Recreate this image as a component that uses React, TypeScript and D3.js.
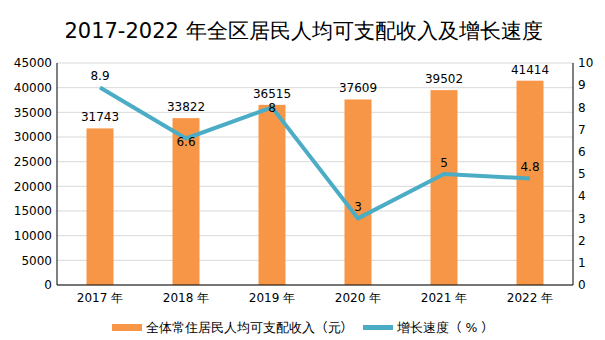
import React from "react";
import * as d3 from "d3";

const years = ["2017 年", "2018 年", "2019 年", "2020 年", "2021 年", "2022 年"];
const income = [31743, 33822, 36515, 37609, 39502, 41414];
const growth = [8.9, 6.6, 8, 3, 5, 4.8];
const leftTicks = [0, 5000, 10000, 15000, 20000, 25000, 30000, 35000, 40000, 45000];
const rightTicks = [0, 1, 2, 3, 4, 5, 6, 7, 8, 9, 10];

const W = 605, H = 340;
const M = { left: 57, right: 32, top: 63, bottom: 55 };
const FONT = "DejaVu Sans, sans-serif";
const CJK = "Noto Sans CJK SC";
const BAR = "#F79646";
const LINE = "#4BACC6";

export default function App() {
  const x = d3.scaleBand().domain(years).range([M.left, W - M.right]);
  const yL = d3.scaleLinear().domain([0, 45000]).range([H - M.bottom, M.top]);
  const yR = d3.scaleLinear().domain([0, 10]).range([H - M.bottom, M.top]);
  const bw = 27;
  const cx = (d: string) => (x(d) as number) + x.bandwidth() / 2;
  const line = d3.line<number>().x((_, i) => cx(years[i])).y((d) => yR(d));
  // label offset: centered on point where it would collide with bar labels
  const lblDy = (i: number) => (i === 1 ? 8 : i === 2 ? 5 : -7);
  const bottom = H - M.bottom;
  return (
    <svg width={W} height={H} style={{ position: "absolute", left: 0, top: 0 }} fontFamily={FONT}>
      <rect width={W} height={H} fill="#fff" />
      <text x={W / 2 + 1} y={38} textAnchor="middle" fontSize={21} fill="#000">
        2017-2022 年全区居民人均可支配收入及增长速度
      </text>
      {leftTicks.map((t) => (
        <line key={t} x1={M.left} x2={W - M.right} y1={yL(t)} y2={yL(t)} stroke="#d9d9d9" strokeWidth={1} />
      ))}
      {leftTicks.map((t) => (
        <text key={t} x={M.left - 5} y={yL(t)} dy="0.35em" textAnchor="end" fontSize={12} fill="#000">
          {t}
        </text>
      ))}
      {rightTicks.map((t) => (
        <text key={t} x={W - M.right + 5} y={yR(t)} dy="0.35em" textAnchor="start" fontSize={12} fill="#000">
          {t}
        </text>
      ))}
      {years.map((y, i) => (
        <rect key={y} x={cx(y) - bw / 2} y={yL(income[i])} width={bw} height={bottom - yL(income[i])} fill={BAR} />
      ))}
      {years.map((y, i) => (
        <text key={y} x={cx(y)} y={yL(income[i]) - 7} textAnchor="middle" fontSize={12} fill="#000">
          {income[i]}
        </text>
      ))}
      <line x1={M.left} x2={M.left} y1={M.top} y2={bottom} stroke="#000" />
      <line x1={W - M.right} x2={W - M.right} y1={M.top} y2={bottom} stroke="#000" />
      <line x1={M.left} x2={W - M.right} y1={bottom} y2={bottom} stroke="#000" />
      <path d={line(growth) || ""} fill="none" stroke={LINE} strokeWidth={4} />
      {years.map((y, i) => (
        <text key={y} x={cx(y)} y={yR(growth[i]) + lblDy(i)} textAnchor="middle" fontSize={12} fill="#000">
          {growth[i]}
        </text>
      ))}
      {years.map((y) => (
        <text key={y} x={cx(y)} y={bottom + 17} textAnchor="middle" fontSize={12} fill="#000">
          {y}
        </text>
      ))}
      <rect x={112} y={324} width={30} height={7} fill={BAR} />
      <text x={146} y={332} fontSize={12.5} fill="#000">
        全体常住居民人均可支配收入<tspan fontFamily={CJK}>（</tspan>元<tspan fontFamily={CJK}>）</tspan>
      </text>
      <rect x={363} y={325} width={30} height={5} fill={LINE} />
      <text x={397} y={332} fontSize={12.5} fill="#000">
        增长速度<tspan fontFamily={CJK}>（</tspan> % <tspan fontFamily={CJK}>）</tspan>
      </text>
    </svg>
  );
}
